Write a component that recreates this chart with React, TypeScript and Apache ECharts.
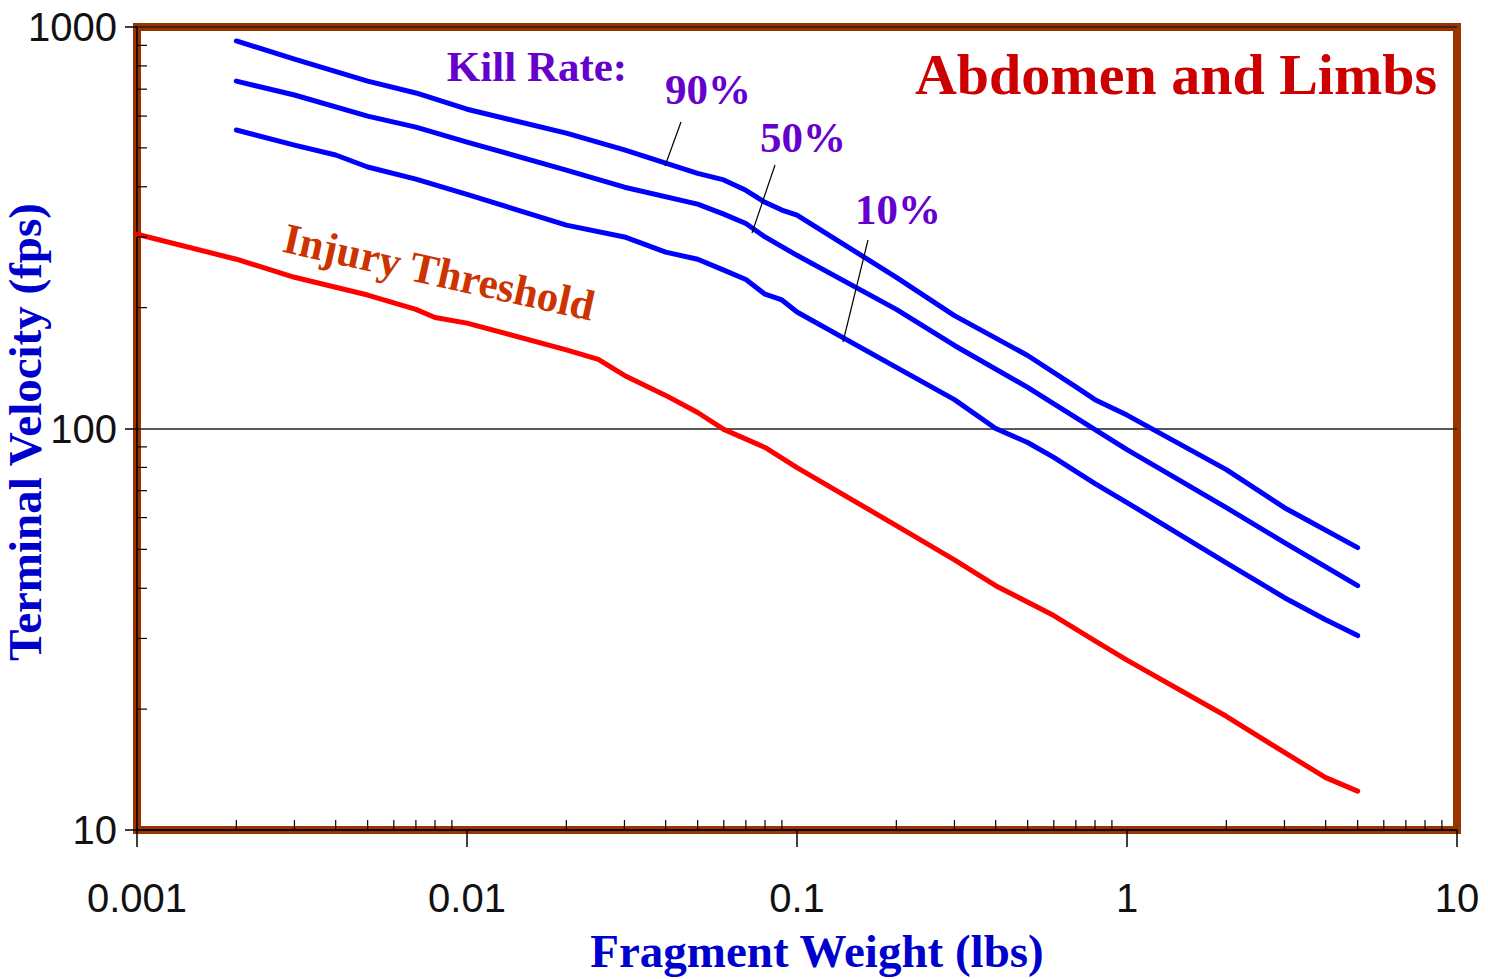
import React, { useEffect, useRef } from "react";
import * as echarts from "echarts";

// ---------- data ----------
const weights90 = [0.002, 0.003, 0.005, 0.007, 0.01, 0.02, 0.03, 0.04, 0.05, 0.06, 0.07, 0.08, 0.09, 0.1, 0.2, 0.3, 0.5, 0.7, 0.8, 1, 2, 3, 5];
const vel90 = [923, 832, 733, 685, 624, 544, 494, 458, 432, 416, 392, 366, 350, 340, 238, 191, 152, 127, 118, 108, 79, 63.5, 50.5];

const weights50 = [0.002, 0.003, 0.005, 0.007, 0.01, 0.02, 0.03, 0.05, 0.06, 0.07, 0.08, 0.1, 0.2, 0.3, 0.5, 0.7, 1, 2, 3, 5];
const vel50 = [733, 677, 600, 563, 517, 440, 399, 362, 342, 324, 300, 270, 198, 161, 126.6, 106.5, 88.6, 63.5, 52, 40.6];

const weights10 = [0.002, 0.003, 0.004, 0.005, 0.007, 0.01, 0.02, 0.03, 0.04, 0.05, 0.06, 0.07, 0.08, 0.09, 0.1, 0.2, 0.3, 0.4, 0.5, 0.6, 0.8, 1, 2, 3, 4, 5];
const vel10 = [554, 508, 480, 448, 418, 383, 321, 300, 275, 264, 248, 235, 216, 209, 195, 142, 118, 100, 92.3, 84.7, 72.9, 65.4, 46.3, 37.9, 33.4, 30.5];

const weightsInjury = [0.001, 0.002, 0.003, 0.005, 0.007, 0.008, 0.01, 0.02, 0.025, 0.03, 0.04, 0.05, 0.06, 0.08, 0.1, 0.2, 0.3, 0.4, 0.6, 0.8, 1, 2, 3, 4, 5];
const velInjury = [304.6, 264, 238, 215, 198, 189, 183, 157, 148.7, 135.6, 120.9, 109.6, 99.5, 89.7, 79.9, 57.3, 47.1, 40.6, 34.2, 29.6, 26.5, 19.2, 15.6, 13.5, 12.5];

const xTickLabels = ["0.001", "0.01", "0.1", "1", "10"];
const yTickLabels = ["10", "100", "1000"];

const xMinorTicks = [
  0.002, 0.003, 0.004, 0.005, 0.006, 0.007, 0.008, 0.009,
  0.02, 0.03, 0.04, 0.05, 0.06, 0.07, 0.08, 0.09,
  0.2, 0.3, 0.4, 0.5, 0.6, 0.7, 0.8, 0.9,
  2, 3, 4, 5, 6, 7, 8, 9,
];
const yMinorTicks = [20, 30, 40, 50, 60, 70, 80, 90, 200, 300, 400, 500, 600, 700, 800, 900];

const SERIF = "'Liberation Serif', 'Times New Roman', serif";
const SANS = "'Liberation Sans', Arial, sans-serif";

function pairs(xs: number[], ys: number[]) {
  return xs.map((x, i) => [x, ys[i]]);
}

function pickLabel(labels: string[], v: number) {
  let best = labels[0];
  let d = Infinity;
  for (const l of labels) {
    const dd = Math.abs(Math.log10(Number(l)) - Math.log10(v));
    if (dd < d) {
      d = dd;
      best = l;
    }
  }
  return best;
}

export default function App() {
  const ref = useRef<HTMLDivElement>(null);

  useEffect(() => {
    if (!ref.current) return;
    const chart = echarts.init(ref.current, undefined, { renderer: "svg" });

    const blueLine = { color: "#0000FF", width: 5, cap: "round", join: "round" };
    const redLine = { color: "#FF0000", width: 5, cap: "round", join: "round" };
    const pct = (text: string, x: number, y: number) => ({
      type: "text",
      x,
      y,
      style: { text, fontFamily: SERIF, fontWeight: "bold", fontSize: 43, fill: "#6600CC", textAlign: "center", textVerticalAlign: "middle" },
    });

    const option: any = {
      animation: false,
      backgroundColor: "#FFFFFF",
      grid: {
        left: 137,
        right: 31,
        top: 27,
        bottom: 149,
        show: true,
        borderColor: "#993300",
        borderWidth: 8,
        backgroundColor: "transparent",
      },
      xAxis: {
        type: "log",
        logBase: 10,
        min: 0.001,
        max: 10,
        splitNumber: 4,
        axisLine: { show: true, lineStyle: { color: "#000", width: 1.5 } },
        axisTick: { show: true, inside: false, length: 17, lineStyle: { color: "#000", width: 1.5 } },
        axisLabel: {
          show: true,
          margin: 48,
          color: "#111",
          fontFamily: SANS,
          fontSize: 40,
          formatter: (v: number) => pickLabel(xTickLabels, v),
        },
        splitLine: { show: false },
      },
      yAxis: {
        type: "log",
        logBase: 10,
        min: 10,
        max: 1000,
        splitNumber: 2,
        axisLine: { show: true, lineStyle: { color: "#000", width: 1.5 } },
        axisTick: { show: true, inside: false, length: 12, lineStyle: { color: "#000", width: 1.5 } },
        axisLabel: {
          show: true,
          margin: 20,
          color: "#111",
          fontFamily: SANS,
          fontSize: 40,
          formatter: (v: number) => pickLabel(yTickLabels, v),
        },
        splitLine: { show: true, lineStyle: { color: "#222", width: 1.5 } },
      },
      series: [
        { name: "Kill 90%", type: "line", data: pairs(weights90, vel90), showSymbol: false, symbol: "none", lineStyle: blueLine, z: 5 },
        { name: "Kill 50%", type: "line", data: pairs(weights50, vel50), showSymbol: false, symbol: "none", lineStyle: blueLine, z: 5 },
        { name: "Kill 10%", type: "line", data: pairs(weights10, vel10), showSymbol: false, symbol: "none", lineStyle: blueLine, z: 5 },
        { name: "Injury Threshold", type: "line", data: pairs(weightsInjury, velInjury), showSymbol: false, symbol: "none", lineStyle: redLine, z: 5 },
        {
          name: "xMinor",
          type: "custom",
          silent: true,
          clip: false,
          z: 6,
          data: xMinorTicks.map((v) => [v, 10]),
          renderItem: (params: any, api: any) => {
            const p = api.coord([api.value(0), api.value(1)]);
            return {
              type: "line",
              shape: { x1: p[0], y1: p[1], x2: p[0], y2: p[1] - 10 },
              style: { stroke: "#000", lineWidth: 1.2 },
            };
          },
        },
        {
          name: "yMinor",
          type: "custom",
          silent: true,
          clip: false,
          z: 6,
          data: yMinorTicks.map((v) => [0.001, v]),
          renderItem: (params: any, api: any) => {
            const p = api.coord([api.value(0), api.value(1)]);
            return {
              type: "line",
              shape: { x1: p[0], y1: p[1], x2: p[0] + 10, y2: p[1] },
              style: { stroke: "#000", lineWidth: 1.2 },
            };
          },
        },
      ],
      graphic: [
        {
          type: "text",
          x: 817,
          y: 951,
          style: {
            text: "Fragment Weight (lbs)",
            fontFamily: SERIF,
            fontWeight: "bold",
            fontSize: 47,
            fill: "#0000CC",
            textAlign: "center",
            textVerticalAlign: "middle",
          },
        },
        {
          type: "text",
          x: 25,
          y: 432,
          rotation: Math.PI / 2,
          style: {
            text: "Terminal Velocity (fps)",
            fontFamily: SERIF,
            fontWeight: "bold",
            fontSize: 47,
            fill: "#0000CC",
            textAlign: "center",
            textVerticalAlign: "middle",
          },
        },
        {
          type: "text",
          x: 1176,
          y: 74,
          style: {
            text: "Abdomen and Limbs",
            fontFamily: SERIF,
            fontWeight: "bold",
            fontSize: 58,
            fill: "#CC0000",
            textAlign: "center",
            textVerticalAlign: "middle",
          },
        },
        {
          type: "text",
          x: 537,
          y: 66,
          style: {
            text: "Kill Rate:",
            fontFamily: SERIF,
            fontWeight: "bold",
            fontSize: 43,
            fill: "#6600CC",
            textAlign: "center",
            textVerticalAlign: "middle",
          },
        },
        pct("90%", 708, 89),
        pct("50%", 803, 137),
        pct("10%", 898, 209),
        { type: "line", shape: { x1: 681, y1: 122, x2: 665, y2: 166 }, style: { stroke: "#000", lineWidth: 1.2 }, z: 10 },
        { type: "line", shape: { x1: 775, y1: 165, x2: 752, y2: 233 }, style: { stroke: "#000", lineWidth: 1.2 }, z: 10 },
        { type: "line", shape: { x1: 868, y1: 240, x2: 843, y2: 342 }, style: { stroke: "#000", lineWidth: 1.2 }, z: 10 },
        {
          type: "text",
          x: 439,
          y: 272,
          rotation: -0.22,
          style: {
            text: "Injury Threshold",
            fontFamily: SERIF,
            fontWeight: "bold",
            fontSize: 43,
            fill: "#CC3300",
            textAlign: "center",
            textVerticalAlign: "middle",
          },
        },
      ],
    };

    chart.setOption(option);
    return () => chart.dispose();
  }, []);

  return (
    <div
      ref={ref}
      style={{ position: "absolute", left: 0, top: 0, width: 1488, height: 979 }}
    />
  );
}
